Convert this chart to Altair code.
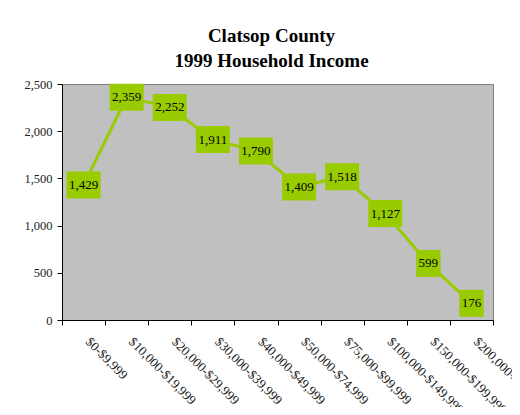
import altair as alt
import pandas as pd

categories = ["$0-$9,999", "$10,000-$19,999", "$20,000-$29,999", "$30,000-$39,999",
              "$40,000-$49,999", "$50,000-$74,999", "$75,000-$99,999",
              "$100,000-$149,999", "$150,000-$199,999", "$200,000+"]
households = [1429, 2359, 2252, 1911, 1790, 1409, 1518, 1127, 599, 176]
y_ticks = [0, 500, 1000, 1500, 2000, 2500]
title_lines = ["Clatsop County", "1999 Household Income"]

df = pd.DataFrame({"income": categories, "households": households})

FONT = "Liberation Serif"
GREEN = "#99CC00"

x = alt.X("income:N", sort=None,
          scale=alt.Scale(type="band", paddingInner=0, paddingOuter=0),
          axis=alt.Axis(title=None, labelAngle=45, labelAlign="left", labelBaseline="top",
                        labelPadding=10, labelOffset=8, tickBand="extent", tickSize=5,
                        tickColor="black", domainColor="black", labelFont=FONT,
                        labelFontSize=13, labelColor="#222222", labelOverlap=False,
                        labelLimit=0, grid=False))
y = alt.Y("households:Q", scale=alt.Scale(domain=[0, 2500], nice=False),
          axis=alt.Axis(title=None, values=y_ticks, labelExpr="format(datum.value, ',')",
                        grid=False, tickSize=5,
                        tickColor="black", domainColor="black", labelFont=FONT,
                        labelFontSize=12.5, labelColor="#222222", labelPadding=5))

base = alt.Chart(df).encode(x=x, y=y)

line = base.mark_line(color=GREEN, strokeWidth=3)

labelled = base.transform_calculate(
    label="format(datum.households, ',')"
).transform_calculate(
    path="length(datum.label) > 3 ? 'M-1.26,-1H1.26V1H-1.26Z' : 'M-0.9,-1H0.9V1H-0.9Z'"
)

boxes = labelled.mark_point(filled=True, opacity=1, color=GREEN, size=729,
                            strokeWidth=0).encode(shape=alt.Shape("path:N", scale=None))
texts = labelled.mark_text(font=FONT, fontSize=13, color="black").encode(text="label:N")

chart = alt.layer(line, boxes, texts).properties(
    width=431, height=236,
    title=alt.TitleParams(title_lines, font=FONT, fontSize=19, fontWeight="bold",
                          color="black", anchor="middle", lineHeight=25, offset=7, dx=-6),
    autosize=alt.AutoSizeParams(type="none"),
    padding={"left": 54, "top": 76, "right": 19, "bottom": 87},
).configure_view(fill="#C0C0C0", stroke="#808080")

chart.save("out.html", embed_options={"renderer": "svg", "actions": False})
